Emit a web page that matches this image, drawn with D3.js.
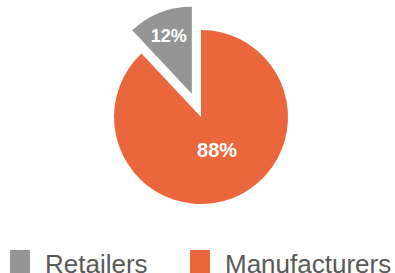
<!DOCTYPE html>
<html>
<head>
<meta charset="utf-8">
<script src="https://cdn.jsdelivr.net/npm/d3@7"></script>
<style>
  body { margin: 0; background: #fff; overflow: hidden; }
  text { font-family: "Liberation Sans", Arial, sans-serif; }
</style>
</head>
<body>
<script>
// chart data
const categories = ["Retailers", "Manufacturers"];
const values = [12, 88];
const colors = ["#959595", "#EA673D"];

const width = 395, height = 273;
const cx = 201, cy = 117, radius = 87;

const svg = d3.select("body").append("svg")
  .attr("width", width)
  .attr("height", height);

const data = categories.map((c, i) => ({ name: c, value: values[i], color: colors[i] }));

// retailers slice sits to the left of 12 o'clock
const pie = d3.pie()
  .value(d => d.value)
  .sort(null)
  .startAngle(-2 * Math.PI * values[0] / 100)
  .endAngle(2 * Math.PI - 2 * Math.PI * values[0] / 100);

const arc = d3.arc().innerRadius(0).outerRadius(radius);
const arcs = pie(data);

const g = svg.append("g").attr("transform", `translate(${cx},${cy})`);

const explode = 25;
const labelR = [0.72, 0.41];
const labelSize = [18, 20];

const slice = g.selectAll("g.slice")
  .data(arcs)
  .enter().append("g")
  .attr("class", "slice")
  .attr("transform", (d, i) => {
    if (i !== 0) return null;
    const a = (d.startAngle + d.endAngle) / 2;
    return `translate(${Math.sin(a) * explode},${-Math.cos(a) * explode})`;
  });

slice.append("path")
  .attr("d", arc)
  .attr("fill", d => d.data.color);

slice.append("text")
  .attr("transform", (d, i) => {
    const a = (d.startAngle + d.endAngle) / 2;
    const r = radius * labelR[i];
    return `translate(${Math.sin(a) * r + (i ? 3 : 0)},${-Math.cos(a) * r})`;
  })
  .attr("text-anchor", "middle")
  .attr("dy", "0.36em")
  .attr("fill", "#fff")
  .attr("font-weight", "bold")
  .attr("font-size", (d, i) => labelSize[i])
  .text(d => d.data.value + "%");

// legend (sits right on the bottom edge, as in the original)
const legendX = [10, 190];
const legend = svg.selectAll("g.legend")
  .data(data)
  .enter().append("g")
  .attr("class", "legend")
  .attr("transform", (d, i) => `translate(${legendX[i]},250)`);

legend.append("rect")
  .attr("width", 20)
  .attr("height", 23)
  .attr("fill", d => d.color);

legend.append("text")
  .attr("x", 35)
  .attr("y", 22.5)
  .attr("fill", "#595959")
  .attr("font-size", 26)
  .text(d => d.name);
</script>
</body>
</html>
